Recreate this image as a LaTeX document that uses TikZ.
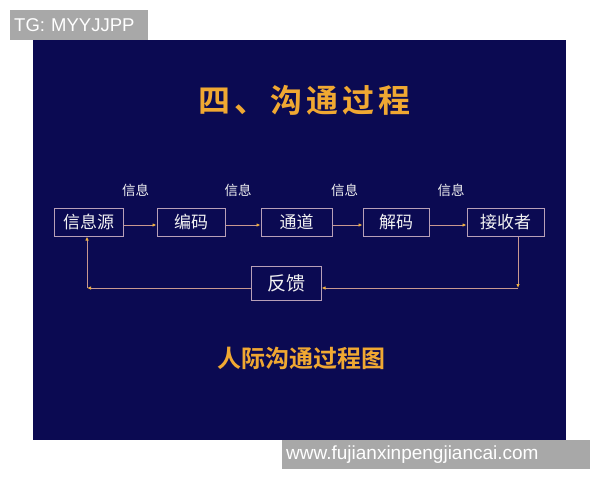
\documentclass[tikz,border=0pt]{standalone}
\usepackage{fontspec}
\setmainfont{Liberation Sans}
\newfontfamily\cjk[BoldFont={Noto Sans CJK SC Bold}]{Noto Sans CJK SC}
\usetikzlibrary{arrows.meta}
\definecolor{fond}{HTML}{0B0A52}
\definecolor{bord}{HTML}{B8A0B8}
\definecolor{trait}{HTML}{C89890}
\definecolor{pointe}{HTML}{F0B040}
\definecolor{orangetitre}{HTML}{F0A832}
\definecolor{blanc}{HTML}{F2F2F2}
\definecolor{gris}{HTML}{A8A8A8}
\begin{document}
\begin{tikzpicture}[x=1pt,y=-1pt]
% Styles
\tikzstyle{boite}=[draw=bord,line width=1pt,fill=fond,text=blanc,inner sep=0pt,minimum height=28pt,font=\cjk\fontsize{17}{17}\selectfont]
\tikzstyle{fleche}=[-{Latex[length=4pt,width=3.5pt,color=pointe]},draw=trait,line width=0.8pt]
\tikzstyle{etiquette}=[text=blanc,inner sep=0pt,font=\cjk\fontsize{13.5}{14}\selectfont]
\tikzstyle{titre}=[text=orangetitre,inner sep=0pt,font=\cjk\bfseries\fontsize{32}{32}\selectfont]
\tikzstyle{marque}=[fill=gris,text=white,inner sep=0pt,anchor=north west,align=left]
% Fond
\useasboundingbox[fill=white] (0,0) rectangle (600,480);
\fill[fond] (33,40) rectangle (566,440);
% Titres
\node[titre] (Titre) at (304,100) {四\hspace{4pt}、\hspace{4pt}沟\hspace{4pt}通\hspace{4pt}过\hspace{4pt}程};
\node[titre,font=\cjk\bfseries\fontsize{24}{24}\selectfont] (Legende) at (301,358) {人际沟通过程图};
% Noeuds
\node[boite,minimum width=69pt] (Src) at (88.5,222) {信息源};
\node[boite,minimum width=68pt] (Cod) at (191,222) {编码};
\node[boite,minimum width=71pt] (Can) at (296.5,222) {通道};
\node[boite,minimum width=66pt] (Dec) at (396,222) {解码};
\node[boite,minimum width=77pt] (Rec) at (505.5,222) {接收者};
\node[boite,minimum width=70pt,minimum height=34pt,font=\cjk\fontsize{19}{19}\selectfont] (Ret) at (286,283) {反馈};
\node[etiquette] (Msg1) at (135.5,190) {信息};
\node[etiquette] (Msg2) at (238,190) {信息};
\node[etiquette] (Msg3) at (344.5,190) {信息};
\node[etiquette] (Msg4) at (451,190) {信息};
\coordinate (CoinD) at (518,288);
\coordinate (CoinG) at (87,288);
% Arcs
\draw[fleche] ([yshift=-3pt]Src.east) -- ([yshift=-3pt]Cod.west);
\draw[fleche] ([yshift=-3pt]Cod.east) -- ([yshift=-3pt]Can.west);
\draw[fleche] ([yshift=-3pt]Can.east) -- ([yshift=-3pt]Dec.west);
\draw[fleche] ([yshift=-3pt]Dec.east) -- ([yshift=-3pt]Rec.west);
\draw[fleche] (Rec.south -| CoinD) -- (CoinD);
\draw[fleche] (CoinD) -- (Ret.east |- CoinD);
\draw[fleche] (Ret.west |- CoinG) -- (CoinG);
\draw[fleche] (CoinG) -- (Src.south -| CoinG);
% Filigranes
\node[marque,minimum width=138pt,minimum height=30pt,text width=130pt,font=\fontsize{18.5}{18.5}\selectfont] (TG) at (10,10) {TG: MYYJJPP};
\node[marque,minimum width=308pt,minimum height=29pt,text width=300pt,font=\fontsize{19}{19}\selectfont] (Site) at (282,440) {www.fujianxinpengjiancai.com};
\end{tikzpicture}
\end{document}
